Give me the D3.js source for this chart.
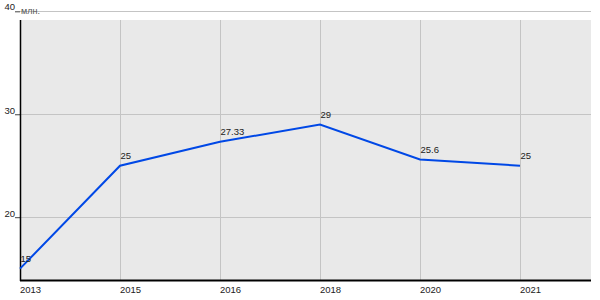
<!DOCTYPE html>
<html><head><meta charset="utf-8">
<script src="https://cdn.jsdelivr.net/npm/d3@7"></script>
<style>body{margin:0;background:#fff}svg{display:block;font-family:"Liberation Sans",Arial,sans-serif}</style>
</head><body><svg id="c" width="600" height="300"></svg>
<script>
const years = ["2013","2015","2016","2018","2020","2021"];
const values = [15, 25, 27.33, 29, 25.6, 25];
const valueLabels = ["15","25","27.33","29","25.6","25"];
const yTicks = [20, 30, 40];
const unitLabel = "млн.";

const svg = d3.select("#c");
const x = d3.scaleLinear().domain([0, 5.71]).range([20, 591]);
const y = d3.scaleLinear().domain([13.9, 40]).range([280, 11.3]);

// plot background
svg.append("rect").attr("x", 20.5).attr("y", 20).attr("width", 591 - 20.5).attr("height", 260).attr("fill", "#e9e9e9");

// horizontal gridlines
svg.append("g").selectAll("line").data(yTicks).join("line")
  .attr("x1", 20).attr("x2", 591)
  .attr("y1", d => Math.round(y(d)) + 0.5).attr("y2", d => Math.round(y(d)) + 0.5)
  .attr("stroke", "#c4c4c4").attr("stroke-width", 1);

// y ticks via axis
const gy = svg.append("g").attr("transform", "translate(20,0)")
  .call(d3.axisLeft(y).tickValues(yTicks).tickSize(5).tickFormat(""));
gy.select(".domain").remove();
gy.selectAll(".tick line").attr("stroke", "#444");

svg.append("g").selectAll("text").data(yTicks).join("text")
  .attr("x", 15).attr("y", d => y(d) + (d === 40 ? -1.5 : 0))
  .attr("text-anchor", "end").attr("font-size", 9.5).attr("fill", "#222")
  .text(d => d);

// vertical gridlines
svg.append("g").selectAll("line").data(years.slice(1)).join("line")
  .attr("x1", (d, i) => Math.round(x(i + 1)) + 0.5).attr("x2", (d, i) => Math.round(x(i + 1)) + 0.5)
  .attr("y1", 20).attr("y2", 280).attr("stroke", "#c4c4c4");

// axes lines
svg.append("line").attr("x1", 20.5).attr("x2", 20.5).attr("y1", 20).attr("y2", 281).attr("stroke", "#000").attr("stroke-width", 1.5);
svg.append("line").attr("x1", 20).attr("x2", 591).attr("y1", 280.5).attr("y2", 280.5).attr("stroke", "#000").attr("stroke-width", 2);

// x labels
svg.append("g").selectAll("text").data(years).join("text")
  .attr("x", (d, i) => x(i)).attr("y", 292.5)
  .attr("font-size", 9.5).attr("fill", "#222").text(d => d);

// unit label (overlapping top gridline like the reference)
svg.append("text").attr("x", 21).attr("y", 14).attr("font-size", 9).attr("fill", "#555").text(unitLabel);

// line
const line = d3.line().x((d, i) => x(i)).y(d => y(d));
svg.append("path").datum(values).attr("d", line).attr("fill", "none")
  .attr("stroke", "#0048e6").attr("stroke-width", 2);

// value labels
svg.append("g").selectAll("text").data(values).join("text")
  .attr("x", (d, i) => x(i) + 0.5).attr("y", d => y(d) - 6.5)
  .attr("font-size", 9.5).attr("fill", "#222")
  .text((d, i) => valueLabels[i]);
</script></body></html>
